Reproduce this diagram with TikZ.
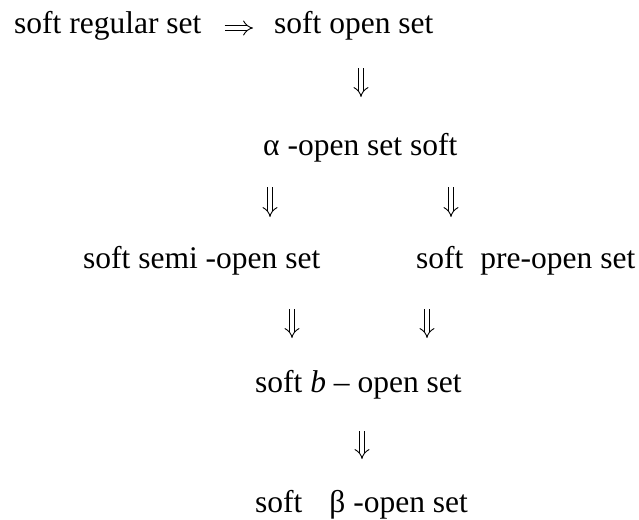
\documentclass[tikz,border=0pt]{standalone}
\usepackage{fontspec}
\setmainfont{Liberation Serif}
\usetikzlibrary{arrows.meta,calc}

\tikzset{
  lbl/.style={anchor=base west, inner sep=0pt, font=\fontsize{31.5}{36}\selectfont},
  imp/.style={draw, line width=0.9pt, double distance=4.4pt, -{Implies[scale=1.55]}}
}

\begin{document}
\begin{tikzpicture}[x=1pt, y=-1pt]
  \useasboundingbox (0,0) rectangle (639,519);

  % statements, placed by their baselines
  \node[lbl] (reg)   at (14,34)  {soft regular set};
  \node[lbl] (open)  at (274,34) {soft open set};
  \node[lbl] (alpha) at (263,155) {α -open set soft};
  \node[lbl] (semi)  at (83,268) {soft semi -open set};
  \node[lbl] (pre)   at (416,268) {soft\hspace{17pt}pre-open set};
  \node[lbl] (bset)  at (255,392) {soft \textit{b} – open set};
  \node[lbl] (beta)  at (255,512) {soft\hspace{27pt}β -open set};

  % columns of the vertical implications
  \coordinate (cA) at (361,0);
  \coordinate (cB) at (270,0);
  \coordinate (cC) at (451,0);
  \coordinate (cD) at (292,0);
  \coordinate (cE) at (427,0);
  \coordinate (cF) at (362,0);

  % implications
  \draw[imp] ($(reg.base east)+(23,-6)$) -- ($(open.base west)+(-21,-6)$);
  \draw[imp] ($(open.base -| cA)+(0,34)$)  -- ($(alpha.base -| cA)+(0,-58)$);
  \draw[imp] ($(alpha.base -| cB)+(0,32)$) -- ($(semi.base -| cB)+(0,-51)$);
  \draw[imp] ($(alpha.base -| cC)+(0,32)$) -- ($(pre.base -| cC)+(0,-51)$);
  \draw[imp] ($(semi.base -| cD)+(0,41)$)  -- ($(bset.base -| cD)+(0,-54)$);
  \draw[imp] ($(pre.base -| cE)+(0,41)$)   -- ($(bset.base -| cE)+(0,-54)$);
  \draw[imp] ($(bset.base -| cF)+(0,39)$)  -- ($(beta.base -| cF)+(0,-53)$);
\end{tikzpicture}
\end{document}
